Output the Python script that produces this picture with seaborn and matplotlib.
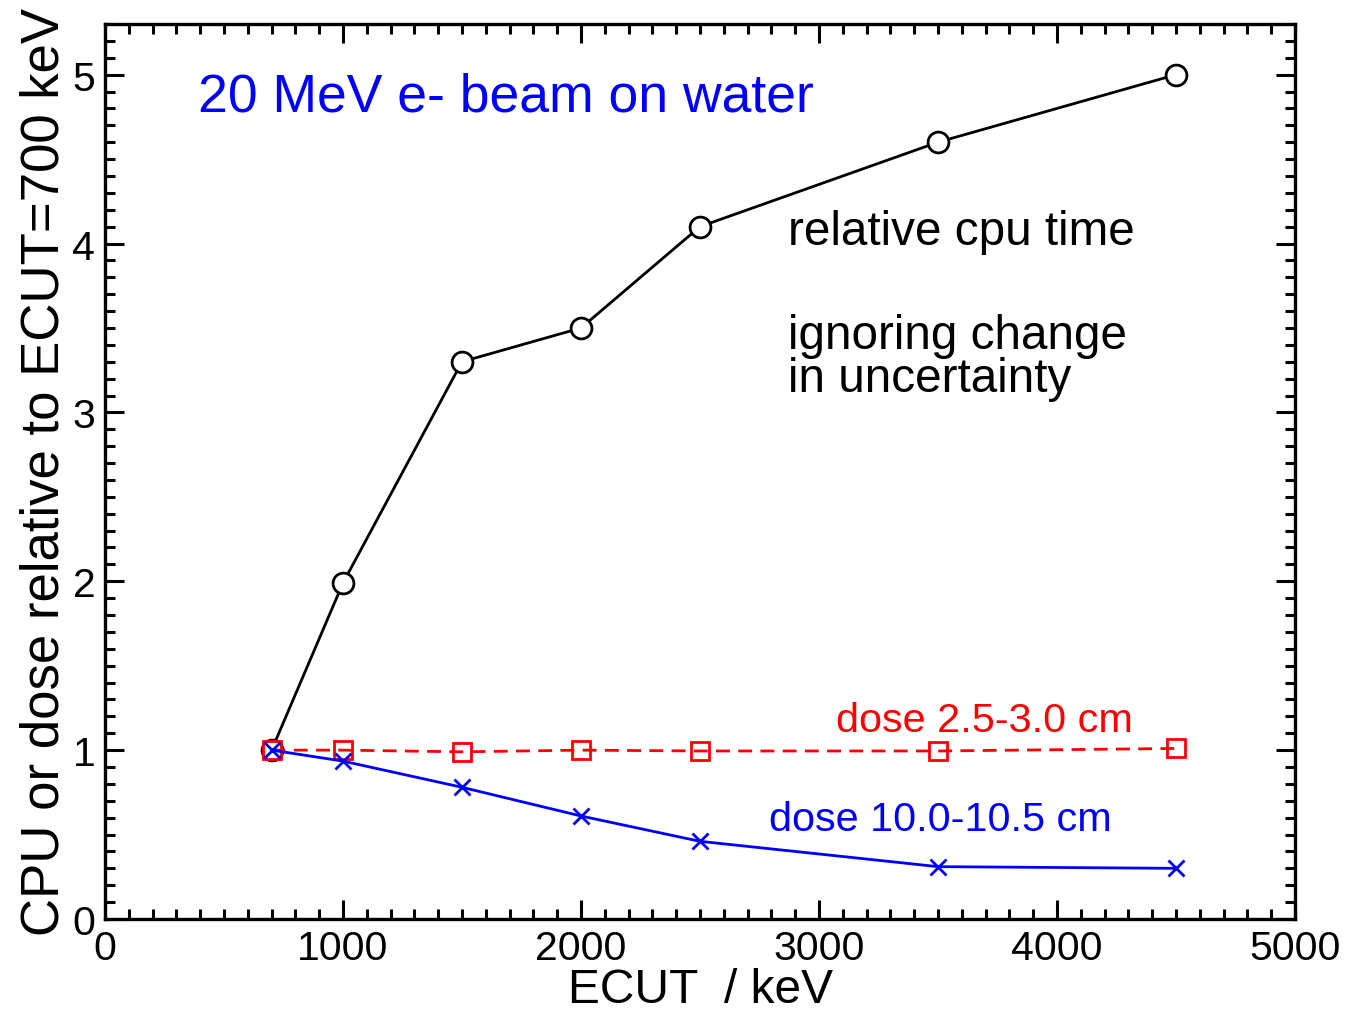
import matplotlib
matplotlib.use("Agg")
import matplotlib.pyplot as plt
import seaborn as sns
import pandas as pd
from matplotlib.ticker import MultipleLocator

ecut = [700, 1000, 1500, 2000, 2500, 3500, 4500]
cpu_time = [1.0, 1.99, 3.3, 3.5, 4.1, 4.6, 5.0]
dose_shallow = [1.0, 1.0, 0.99, 1.0, 0.995, 0.995, 1.01]
dose_deep = [1.0, 0.935, 0.78, 0.61, 0.46, 0.31, 0.30]
x_ticks = [0, 1000, 2000, 3000, 4000, 5000]
y_ticks = [0, 1, 2, 3, 4, 5]

sns.set_theme(style="ticks")
plt.rcParams['font.family'] = ['Liberation Sans', 'DejaVu Sans']

fig = plt.figure(figsize=(13.48, 10.12), dpi=100)
ax = fig.add_axes([105/1348, 1 - 920/1012, (1295-105)/1348, (920-25)/1012])

df = pd.DataFrame({"ecut": ecut, "cpu": cpu_time, "shallow": dose_shallow, "deep": dose_deep})

sns.lineplot(data=df, x="ecut", y="cpu", ax=ax, color="black", lw=2.0,
             marker="o", markersize=15, markerfacecolor="white",
             markeredgecolor="black", markeredgewidth=2.0, zorder=3)
sns.lineplot(data=df, x="ecut", y="shallow", ax=ax, color="red", lw=2.0,
             linestyle=(0, (5, 3)), marker="s", markersize=13, markerfacecolor="none",
             markeredgecolor="red", markeredgewidth=2.0, zorder=4)
sns.lineplot(data=df, x="ecut", y="deep", ax=ax, color="blue", lw=2.0,
             marker="x", markersize=11, markeredgecolor="blue",
             markeredgewidth=2.0, zorder=5)

ax.set_xlim(0, 5000)
ax.set_ylim(0, 5.3)
ax.xaxis.set_minor_locator(MultipleLocator(100))
ax.yaxis.set_minor_locator(MultipleLocator(0.1))
ax.set_xticks(x_ticks)
ax.set_xticklabels([str(v) for v in x_ticks])
ax.set_yticks(y_ticks)
ax.set_yticklabels([str(v) for v in y_ticks])

ax.tick_params(which="both", direction="in", top=True, right=True, width=2.2,
               color="black", labelcolor="black")
ax.tick_params(which="major", length=14, labelsize=29.5, pad=7)
ax.tick_params(which="minor", length=7)
for s in ax.spines.values():
    s.set_linewidth(2.4)
    s.set_color("black")

ax.set_xlabel("ECUT  / keV", fontsize=34.5, labelpad=0, color="black")
ax.set_ylabel("CPU or dose relative to ECUT=700 keV", fontsize=38, labelpad=2, color="black")

ax.text(390, 4.87, "20 MeV e- beam on water", color="blue", fontsize=38.5, ha="left", va="center")
ax.text(2870, 4.07, "relative cpu time", color="black", fontsize=34.3, ha="left", va="center")
ax.text(2870, 3.33, "ignoring change\nin uncertainty", color="black", fontsize=34.3, ha="left",
        va="center", linespacing=0.95)
ax.text(3070, 1.18, "dose 2.5-3.0 cm", color="red", fontsize=29.8, ha="left", va="center")
ax.text(2790, 0.59, "dose 10.0-10.5 cm", color="blue", fontsize=29.8, ha="left", va="center")

fig.savefig("out.png", dpi=100)
